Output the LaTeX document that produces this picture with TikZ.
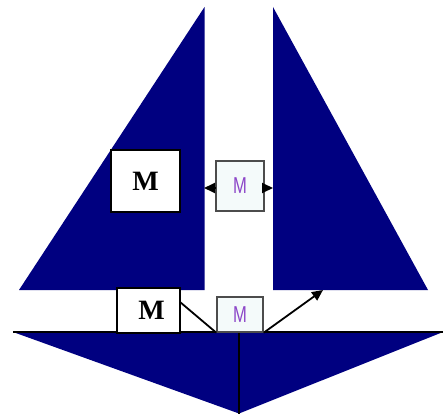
\documentclass[tikz,border=0pt]{standalone}
\usepackage{fontspec}
\setmainfont{Liberation Serif}
\newfontfamily\smallsans{Liberation Sans}
\usetikzlibrary{arrows.meta}
\definecolor{navy}{RGB}{0,0,128}
\definecolor{mcol}{RGB}{140,70,200}
\definecolor{boxfill}{RGB}{244,250,250}
\tikzset{
  sail/.style={fill=navy,draw=none},
  bigbox/.style={draw=black,line width=1.7pt,fill=white,inner sep=0pt,font=\fontsize{28}{28}\selectfont\bfseries},
  smallbox/.style={draw=black!70,line width=1.4pt,fill=boxfill,inner sep=0pt,text=mcol,font=\smallsans\fontsize{23}{23}\selectfont},
  conn/.style={draw=black,line width=1.8pt},
  arr/.style={conn,-{Triangle[length=11pt,width=10pt]}}
}
\begin{document}
\begin{tikzpicture}[x=1pt,y=-1pt]
\useasboundingbox (0,0) rectangle (443,414);
% sails
\fill[sail] (204.5,7) -- (204.5,290) -- (19,290) -- cycle;
\fill[sail] (273,7) -- (273,290) -- (428,290) -- cycle;
% hull
\fill[sail] (13,332) -- (443,332) -- (239,413.5) -- cycle;
\coordinate (hl) at (13,332);
\coordinate (hr) at (443,332);
\coordinate (mt) at (239,332);
\coordinate (mb) at (239,414);
\draw[conn] (hl) -- (hr);
\draw[conn] (mt) -- (mb);
% boxes
\node[bigbox,minimum width=69pt,minimum height=62pt] (M1) at (145.5,181) {M};
\node[bigbox,minimum width=63pt,minimum height=45pt] (M2) at (148.5,310.5) {\hspace{6pt}M};
\node[smallbox,minimum width=48pt,minimum height=50pt] (s1) at (240,186) {\scalebox{0.72}[1]{M}};
\node[smallbox,minimum width=46pt,minimum height=35pt] (s2) at (240,314.5) {\scalebox{0.72}[1]{M}};
% connectors
\coordinate (la) at (204,188);
\coordinate (ra) at (273,188);
\draw[arr] (s1.west |- la) -- (la);
\draw[arr] (s1.east |- ra) -- (ra);
\coordinate (m2e) at (180,302);
\coordinate (tip) at (323,290);
\draw[conn] (m2e) -- (s2.south west);
\draw[arr] (s2.south east) -- (tip);
\end{tikzpicture}
\end{document}
